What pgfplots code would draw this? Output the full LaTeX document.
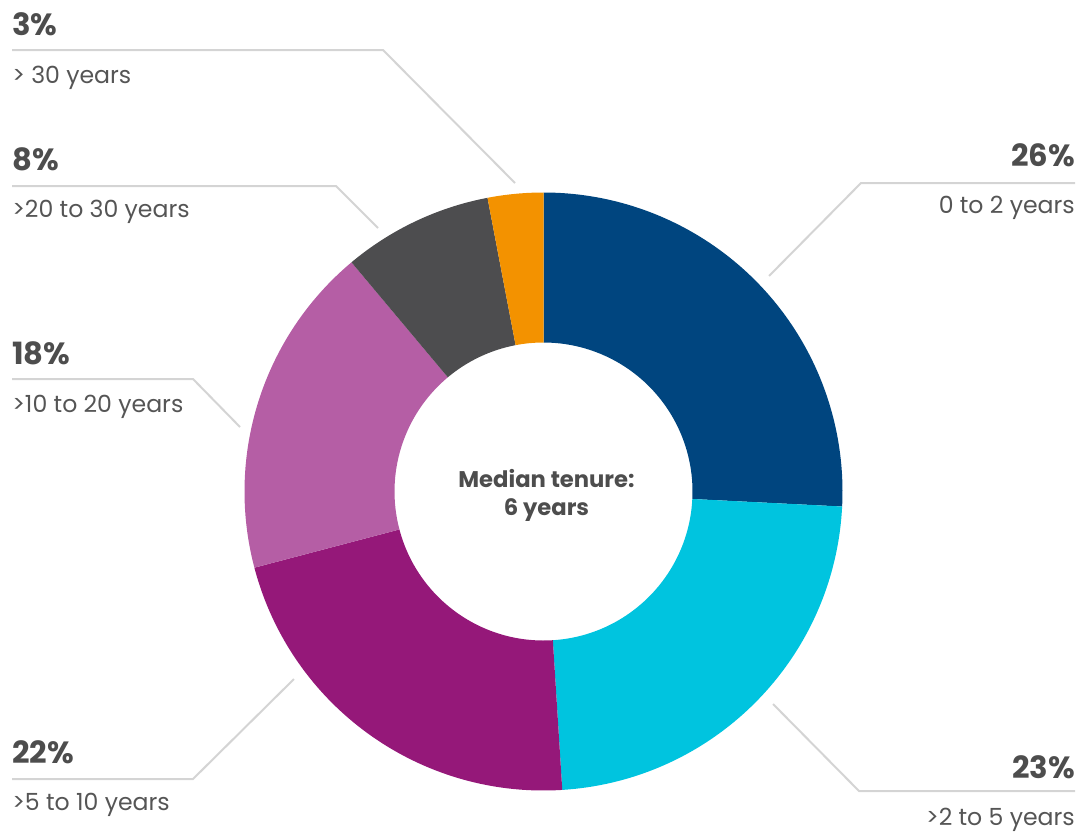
\documentclass[border=0pt]{standalone}
\usepackage{fontspec}
\setmainfont{Poppins}
\usepackage{pgfplots}
\usepackage{pgfplotstable}
\pgfplotsset{compat=1.18}

\definecolor{cBlue}{HTML}{00457F}
\definecolor{cCyan}{HTML}{00C4DF}
\definecolor{cPurple}{HTML}{951879}
\definecolor{cPink}{HTML}{B55EA5}
\definecolor{cGray}{HTML}{4D4D4F}
\definecolor{cOrange}{HTML}{F39200}
\definecolor{txt}{HTML}{4D4D4D}
\definecolor{lbl}{HTML}{555555}
\definecolor{lead}{HTML}{D4D4D4}

\tikzset{
  pct/.style={font=\fontsize{23}{26}\selectfont\bfseries, text=txt, inner sep=0pt},
  lab/.style={font=\fontsize{17.7}{20}\selectfont, text=lbl, inner sep=0pt},
  ctr/.style={font=\fontsize{17}{20}\selectfont\bfseries, text=txt, inner sep=0pt, anchor=base},
  leader/.style={draw=lead, line width=1.5pt},
}

% slice sizes as drawn (clockwise from 12 o'clock)
\pgfplotstableread{
share color
25.8 cBlue
23.2 cCyan
21.9 cPurple
18.0 cPink
8.1  cGray
3.0  cOrange
}\slices

\newcommand\Rout{224.25pt}
\newcommand\Rin{111.75pt}
\newcommand\Rdiff{112.5pt}

\begin{document}
\begin{tikzpicture}
\begin{axis}[
  x=0.75pt, y=0.75pt, y dir=reverse,
  xmin=0, xmax=1084, ymin=0, ymax=835,
  hide axis, clip=false,
]
\path (axis cs:0,0) rectangle (axis cs:1084,835);

\pgfplotsextra{
  \gdef\cum{0}
  \pgfplotstablegetrowsof{\slices}
  \pgfmathtruncatemacro\last{\pgfplotsretval-1}
  \foreach \i in {0,...,\last}{
    \pgfplotstablegetelem{\i}{share}\of\slices
    \let\share\pgfplotsretval
    \pgfplotstablegetelem{\i}{color}\of\slices
    \let\col\pgfplotsretval
    \pgfmathsetmacro\a{90-3.6*\cum}
    \pgfmathsetmacro\b{90-3.6*(\cum+\share)}
    \fill[fill=\col] (axis cs:543.5,491.5) ++(\a:\Rout)
      arc[start angle=\a, end angle=\b, radius=\Rout]
      -- ++(\b:-\Rdiff)
      arc[start angle=\b, end angle=\a, radius=\Rin] -- cycle;
    \pgfmathsetmacro\newcum{\cum+\share}
    \xdef\cum{\newcum}
  }
}

% leader lines
\draw[leader] (axis cs:12,50) -- (axis cs:383,50) -- (axis cs:515,183);
\draw[leader] (axis cs:12,186) -- (axis cs:336,186) -- (axis cs:378,228);
\draw[leader] (axis cs:12,379) -- (axis cs:193,379) -- (axis cs:240,427);
\draw[leader] (axis cs:12,779) -- (axis cs:193,779) -- (axis cs:294,679);
\draw[leader] (axis cs:1075,183) -- (axis cs:861,183) -- (axis cs:769,276);
\draw[leader] (axis cs:1075,791) -- (axis cs:859,791) -- (axis cs:773,704);

% labels
\node[pct, anchor=base west] at (axis cs:12,35) {3\%};
\node[lab, anchor=base west] at (axis cs:12,83) {> 30 years};
\node[pct, anchor=base west] at (axis cs:12,170) {8\%};
\node[lab, anchor=base west] at (axis cs:12,217) {>20 to 30 years};
\node[pct, anchor=base west] at (axis cs:12,364) {18\%};
\node[lab, anchor=base west] at (axis cs:12,412) {>10 to 20 years};
\node[pct, anchor=base west] at (axis cs:12,763) {22\%};
\node[lab, anchor=base west] at (axis cs:12,810) {>5 to 10 years};
\node[pct, anchor=base east] at (axis cs:1075,166) {26\%};
\node[lab, anchor=base east] at (axis cs:1075,213) {0 to 2 years};
\node[pct, anchor=base east] at (axis cs:1075,778) {23\%};
\node[lab, anchor=base east] at (axis cs:1075,825) {>2 to 5 years};

% centre text
\node[ctr] at (axis cs:546.5,487) {Median tenure:};
\node[ctr] at (axis cs:546.5,515) {6 years};
\end{axis}
\end{tikzpicture}
\end{document}
